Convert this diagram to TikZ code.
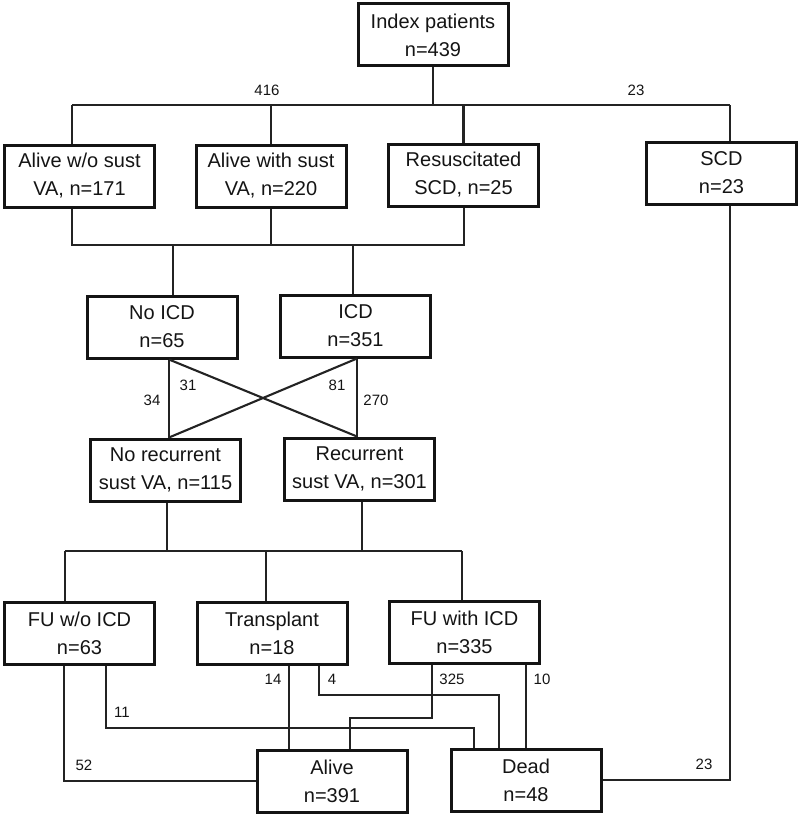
\documentclass[tikz,border=0pt]{standalone}
\usepackage{fontspec}
\setmainfont{Liberation Sans}
\usetikzlibrary{calc}
\definecolor{ink}{RGB}{20,20,20}
\definecolor{wire}{RGB}{35,35,35}
\begin{document}
\begin{tikzpicture}[x=1pt,y=-1pt,
  box/.style={draw=ink, line width=3pt, minimum width=150pt, minimum height=62pt, inner sep=0pt, align=center, font=\fontsize{20}{28}\selectfont, text=ink},
  conn/.style={draw=wire, line width=2.1pt, line join=miter},
  lbl/.style={font=\fontsize{15}{18}\selectfont, text=ink, inner sep=0pt}]
\useasboundingbox (0,0) rectangle (800,816);

% nodes
\node[box] (idx)   at (433,35)    {Index patients\\n=439};
\node[box] (a1)    at (79.5,176)  {Alive w/o sust\\VA, n=171};
\node[box] (a2)    at (271,176)   {Alive with sust\\VA, n=220};
\node[box] (a3)    at (463.5,175) {Resuscitated\\SCD, n=25};
\node[box] (scd)   at (721.5,173) {SCD\\n=23};
\node[box] (noicd) at (162,327)   {No ICD\\n=65};
\node[box] (icd)   at (355.5,326) {ICD\\n=351};
\node[box] (norec) at (165.5,470) {No recurrent\\sust VA, n=115};
\node[box] (rec)   at (359.5,469) {Recurrent\\sust VA, n=301};
\node[box] (fu1)   at (79.5,633)  {FU w/o ICD\\n=63};
\node[box] (tx)    at (272,633)   {Transplant\\n=18};
\node[box] (fu2)   at (464.5,632) {FU with ICD\\n=335};
\node[box] (alive) at (332,781)   {Alive\\n=391};
\node[box] (dead)  at (526,780)   {Dead\\n=48};

% helper coordinates
\coordinate (b1L) at (72,105);
\coordinate (b1R) at (730,105);
\coordinate (b2L) at (72,245);
\coordinate (b2R) at (464,245);
\coordinate (d1)  at (173,245);
\coordinate (d2)  at (353,245);
\coordinate (xL)  at (169,0);
\coordinate (xR)  at (357,0);
\coordinate (b3L) at (65,551);
\coordinate (b3M) at (266,551);
\coordinate (b3R) at (462,551);
\coordinate (r1)  at (167,0);
\coordinate (r2)  at (362,0);
\coordinate (c52) at (64,0);
\coordinate (q11) at (106,728);
\coordinate (p11) at (474,728);
\coordinate (t14) at (289,0);
\coordinate (q4)  at (319,695);
\coordinate (p4)  at (499,695);
\coordinate (q325) at (432,718);
\coordinate (p325) at (350,718);

% level 1
\draw[conn] (idx.south) -- (idx.south |- b1L);
\draw[conn] (b1L) -- (b1R);
\draw[conn] (b1L) -- (b1L |- a1.north);
\draw[conn] (a2.north) -- (a2.north |- b1L);
\draw[conn] (a3.north) -- (a3.north |- b1L);
\draw[conn] (b1R) -- (b1R |- scd.north);
\node[lbl] (l416) at (267,90) {416};
\node[lbl] (l23a) at (636,90) {23};

% level 2
\draw[conn] (a1.south -| b2L) -- (b2L) -- (b2R) -- (a3.south -| b2R);
\draw[conn] (a2.south) -- (a2.south |- b2L);
\draw[conn] (d1) -- (d1 |- noicd.north);
\draw[conn] (d2) -- (d2 |- icd.north);

% cross
\draw[conn] (noicd.south -| xL) -- (norec.north -| xL);
\draw[conn] (noicd.south -| xL) -- (rec.north -| xR);
\draw[conn] (icd.south -| xR) -- (rec.north -| xR);
\draw[conn] (icd.south -| xR) -- (norec.north -| xL);
\node[lbl] (l31)  at (188,385) {31};
\node[lbl] (l34)  at (152,400) {34};
\node[lbl] (l81)  at (337,385) {81};
\node[lbl] (l270) at (376,400) {270};

% level 3
\draw[conn] (norec.south -| r1) -- (r1 |- b3L);
\draw[conn] (rec.south -| r2) -- (r2 |- b3L);
\draw[conn] (b3L) -- (b3R);
\draw[conn] (b3L) -- (b3L |- fu1.north);
\draw[conn] (b3M) -- (b3M |- tx.north);
\draw[conn] (b3R) -- (b3R |- fu2.north);

% outcomes
\draw[conn] (fu1.south -| c52) |- (alive.west);
\draw[conn] (fu1.south -| q11) -- (q11) -- (p11) -- (p11 |- dead.north);
\draw[conn] (tx.south -| t14) -- (t14 |- alive.north);
\draw[conn] (tx.south -| q4) -- (q4) -- (p4) -- (p4 |- dead.north);
\draw[conn] (fu2.south -| q325) -- (q325) -- (p325) -- (p325 |- alive.north);
\draw[conn] (fu2.south -| dead.north) -- (dead.north);
\draw[conn] (scd.south -| b1R) |- (dead.east);
\node[lbl] (l14)  at (273,679) {14};
\node[lbl] (l4)   at (332,679) {4};
\node[lbl] (l325) at (452,679) {325};
\node[lbl] (l10)  at (542,679) {10};
\node[lbl] (l11)  at (122,712) {11};
\node[lbl] (l52)  at (84,765)  {52};
\node[lbl] (l23b) at (704,764) {23};
\end{tikzpicture}
\end{document}
